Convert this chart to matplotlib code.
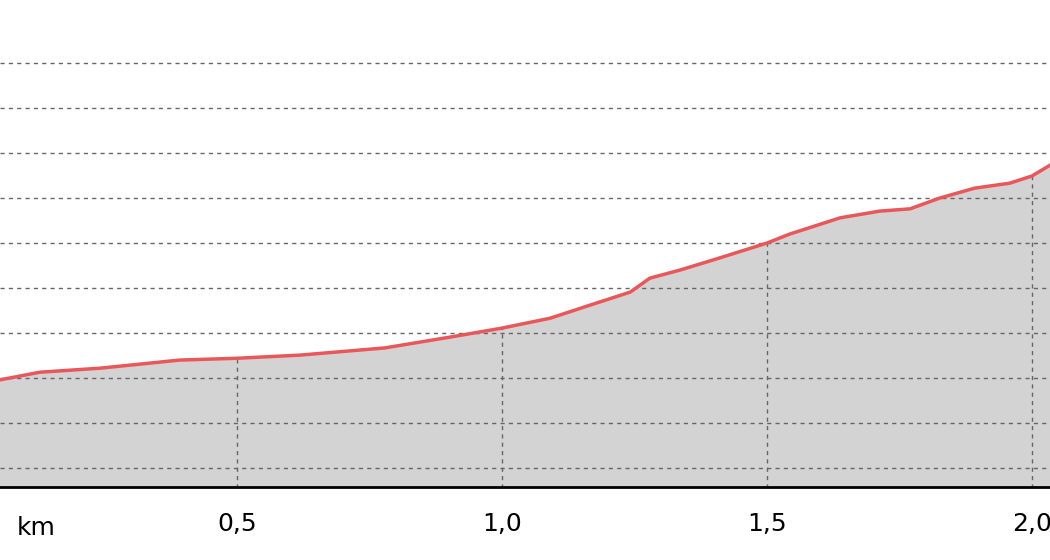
import matplotlib
matplotlib.use("Agg")
import numpy as np
import matplotlib.pyplot as plt

# distance in km, elevation in grid units
dist_km = [0.053, 0.128, 0.242, 0.392, 0.500, 0.619, 0.779, 0.902, 1.000, 1.091,
           1.166, 1.242, 1.279, 1.336, 1.411, 1.500, 1.543, 1.638, 1.713, 1.770,
           1.826, 1.892, 1.958, 2.000, 2.034]
elev = [1.96, 2.13, 2.22, 2.40, 2.44, 2.51, 2.67, 2.91, 3.11, 3.33,
        3.62, 3.91, 4.22, 4.40, 4.67, 5.00, 5.20, 5.56, 5.71, 5.76,
        6.00, 6.22, 6.33, 6.49, 6.73]
tick_pos = [0.5, 1.0, 1.5, 2.0]
tick_labels = ["0,5", "1,0", "1,5", "2,0"]
grid_levels = list(range(10))

fig = plt.figure(figsize=(10.5, 5.6), dpi=100)
ax = fig.add_axes([0, 73 / 560, 1, 487 / 560])

ax.fill_between(dist_km, elev, -1, color="#d3d3d3", zorder=1)
ax.plot(dist_km, elev, color="#e8585b", lw=2.5, zorder=3)

for g in grid_levels:
    ax.axhline(g, color="#666666", ls=(0, (3, 3)), lw=1, zorder=2)
# vertical grid only runs up to the profile
tops = np.interp(tick_pos, dist_km, elev)
ax.vlines(tick_pos, -1, tops, color="#666666", ls=(0, (3, 3)), lw=1, zorder=2)

ax.set_xlim(0.053, 2.034)
ax.set_ylim(-0.42, 10.4)
ax.set_yticks([])
ax.set_xticks(tick_pos)
ax.set_xticklabels(tick_labels, fontsize=18)
ax.tick_params(axis="x", length=0, pad=18)
for s in ["top", "left", "right"]:
    ax.spines[s].set_visible(False)
ax.spines["bottom"].set_linewidth(2)
ax.spines["bottom"].set_zorder(4)
fig.text(36 / 1050, 1 - 528 / 560, "km", fontsize=18, ha="center", va="center")

fig.savefig("out.png", dpi=100)
